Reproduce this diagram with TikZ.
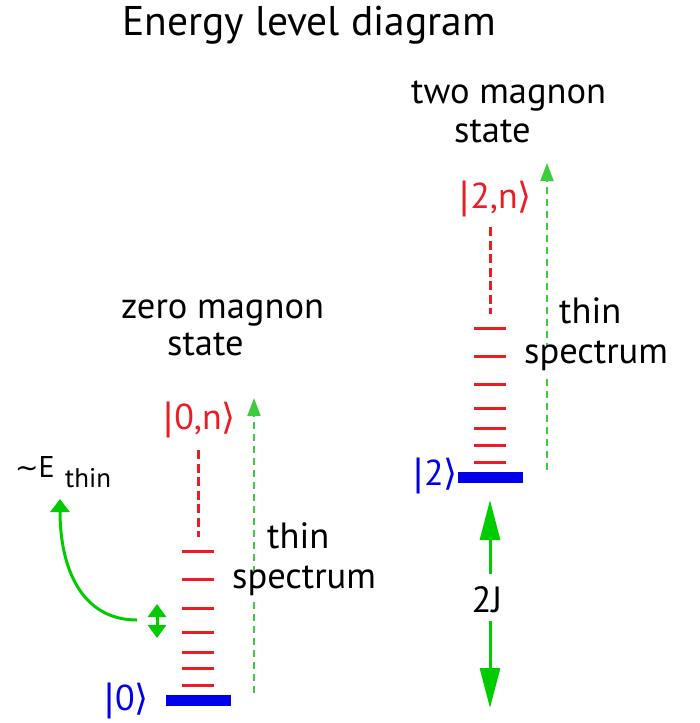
\documentclass[tikz,border=0pt]{standalone}
\usepackage{fontspec}
\setmainfont{PT Sans}
\newfontfamily\symfont{DejaVu Sans}
\usetikzlibrary{arrows.meta}
\definecolor{lvred}{RGB}{237,28,36}
\definecolor{lvblue}{RGB}{0,0,235}
\definecolor{lvgreen}{RGB}{0,204,0}
\definecolor{lvdash}{RGB}{60,205,60}
\newcommand{\kbar}{{\symfont|}}
\newcommand{\kang}{{\symfont\char"27E9}}
\begin{document}
\begin{tikzpicture}[x=1pt,y=-1pt,
  txt/.style={font=\fontsize{36.5}{42}\selectfont, inner sep=0pt},
  titletxt/.style={font=\fontsize{41.5}{48}\selectfont, inner sep=0pt},
  smalltxt/.style={font=\fontsize{30}{34}\selectfont, inner sep=0pt},
  subtxt/.style={font=\fontsize{27}{30}\selectfont, inner sep=0pt},
  kettxt/.style={font=\fontsize{36}{40}\selectfont, inner sep=0pt},
  occlude/.style={fill=white, inner xsep=2pt, inner ysep=10pt},
  levelline/.style={draw=lvred, line width=3pt},
  groundline/.style={draw=lvblue, line width=11pt},
  reddash/.style={draw=lvred, line width=3pt, dash pattern=on 9pt off 4.5pt},
  thinarrow/.style={draw=lvdash, line width=2pt, dash pattern=on 7pt off 5pt,
    -{Triangle[width=13pt,length=18pt]}},
  bigarrow/.style={draw=lvgreen, line width=3pt, -{Triangle[width=20pt,length=40pt]}},
  smallarrow/.style={draw=lvgreen, line width=3pt,
    {Triangle[width=18pt,length=13pt]}-{Triangle[width=18pt,length=13pt]}},
  curvearrow/.style={draw=lvgreen, line width=3pt, -{Triangle[width=19pt,length=13pt]}}
]
\useasboundingbox (0,0) rectangle (699,723);

% ---------- coordinates ----------
\coordinate (lgA) at (254,693);
\coordinate (lgB) at (254,398);
\coordinate (rgA) at (547,470);
\coordinate (rgB) at (547,163);
\coordinate (ldA) at (198,450);
\coordinate (ldB) at (198,537);
\coordinate (rdA) at (490,227);
\coordinate (rdB) at (490,314);
\coordinate (lg0) at (166,700.5);
\coordinate (lg1) at (231,700.5);
\coordinate (rg0) at (458,477.5);
\coordinate (rg1) at (523,477.5);
\coordinate (sa1) at (157,604);
\coordinate (sa2) at (157,638);
\coordinate (cv0) at (137,620);
\coordinate (cv1) at (60,499);
\coordinate (jtop) at (490,500);
\coordinate (jbot) at (490,708);

% ---------- dashed spectrum arrows (behind text) ----------
\draw[thinarrow] (lgA) -- (lgB);
\draw[thinarrow] (rgA) -- (rgB);

% ---------- levels ----------
\foreach \yy in {551,579,608,632,652,668,685}
  \draw[levelline] (182,\yy) -- (214,\yy);
\foreach \yy in {328,356,384,408,428,445,462}
  \draw[levelline] (474,\yy) -- (506,\yy);
\draw[reddash] (ldA) -- (ldB);
\draw[reddash] (rdA) -- (rdB);
\draw[groundline] (lg0) -- (lg1);
\draw[groundline] (rg0) -- (rg1);

% ---------- texts ----------
\node[titletxt, anchor=base west] (title) at (122,35) {Energy level diagram};
\node[txt, anchor=base west] (twomag) at (411,103) {two magnon};
\node[txt, anchor=base west] (twostate) at (454,142) {state};
\node[txt, anchor=base west] (zeromag) at (121,318) {zero magnon};
\node[txt, anchor=base west] (zerostate) at (167,355) {state};
\node[txt, anchor=base west] (rthin) at (559,323) {thin};
\node[txt, anchor=base west, occlude, text height=0.75em, text depth=0.25em] (rspec) at (522,363) {spectrum};
\node[txt, anchor=base west] (lthin) at (267,548) {thin};
\node[txt, anchor=base west, occlude, text height=0.75em, text depth=0.25em] (lspec) at (230,588) {spectrum};

\node[kettxt, text=lvred] (ket0n) at (199,420) {\kbar0,n\kang};
\node[kettxt, text=lvred] (ket2n) at (495,199) {\kbar2,n\kang};
\node[kettxt, text=lvblue] (ket0) at (126,701) {\kbar0\kang};
\node[kettxt, text=lvblue] (ket2) at (435,476) {\kbar2\kang};

\node[smalltxt, anchor=base west] (etil) at (15,477) {{\symfont\fontsize{28}{30}\selectfont\char"007E}E};
\node[subtxt, anchor=base west] (ethin) at (65,487) {thin};

\node[txt] (twoJ) at (487,600) {2J};

% ---------- solid green arrows ----------
\draw[bigarrow, shorten <=13pt] (twoJ.north -| jtop) -- (jtop);
\draw[bigarrow, shorten <=8pt] (twoJ.south -| jbot) -- (jbot);
\draw[smallarrow] (sa2) -- (sa1);
\draw[curvearrow] (cv0) .. controls +(-55,0) and +(0,70) .. (cv1);
\end{tikzpicture}
\end{document}
